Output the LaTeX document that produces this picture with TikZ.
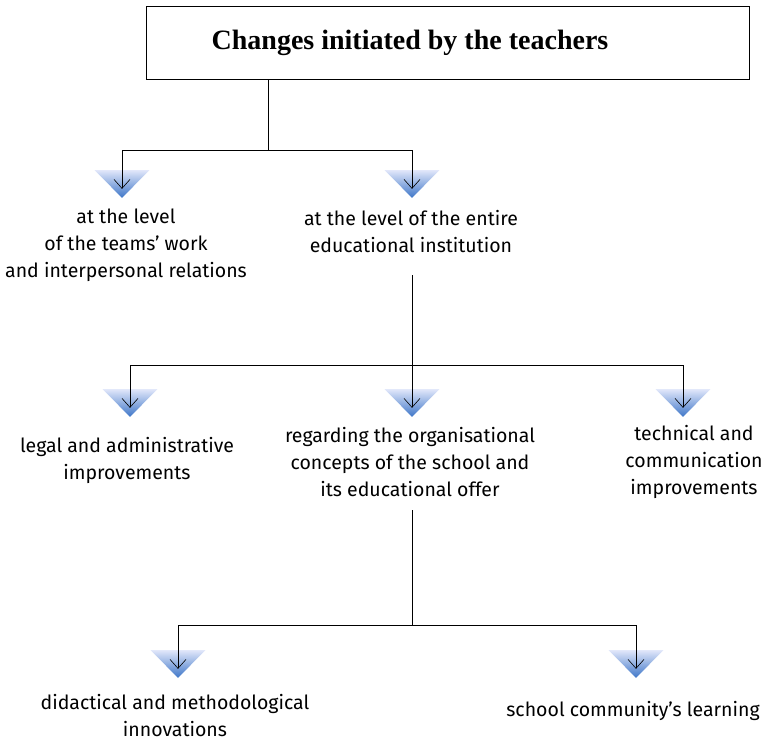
\documentclass[tikz,border=0pt]{standalone}
\usepackage{fontspec}
\setmainfont{Fira Sans}
\newfontfamily\titlefont{Liberation Serif}
\usetikzlibrary{shapes.geometric, arrows.meta, positioning}

\begin{document}
\begin{tikzpicture}[
    x=1pt, y=-1pt,
    title/.style={rectangle, draw=black, minimum width=603pt, minimum height=73pt, text centered, font=\titlefont\fontsize{28}{32}\selectfont\bfseries},
    label/.style={align=center, inner sep=0pt, font=\fontsize{19.5}{27}\selectfont},
    tri/.style={isosceles triangle, isosceles triangle stretches, shape border rotate=270, minimum width=54pt, minimum height=27pt, inner sep=0pt, draw=none},
    trifill/.style={top color={rgb,255:red,225;green,231;blue,250}, bottom color={rgb,255:red,62;green,118;blue,200}},
    arrow/.style={-{Straight Barb[length=9pt, width=16pt]}, semithick},
    link/.style={semithick}
]
\useasboundingbox (0,0) rectangle (767,740);

% Title
\node[title] (top) at (447.5,42.5) {Changes initiated by the teachers\hspace*{75pt}};

% First level
\node[tri] (t1) at (122,181.5) {};
\node[tri] (t2) at (412,181.5) {};
\node[label] (n1) at (126,245) {at the level\\of the teams’ work\\and interpersonal relations};
\node[label] (n2) at (411,232) {at the level of the entire\\educational institution};

% Second level
\node[tri] (t3) at (130,400.5) {};
\node[tri] (t4) at (412,400.5) {};
\node[tri] (t5) at (683,400.5) {};
\node[label] (n3) at (127,460) {legal and administrative\\improvements};
\node[label] (n4) at (410,462) {regarding the organisational\\concepts of the school and\\its educational offer};
\node[label] (n5) at (694,462) {technical and\\communication\\improvements};

% Third level
\node[tri] (t6) at (178,661.5) {};
\node[tri] (t7) at (636,661.5) {};
\node[label] (n6) at (175,715) {didactical and methodological\\innovations};
\node[label] (n7) at (633,711) {school community’s learning};

% Triangle shading
\foreach \t in {t1,t2,t3,t4,t5,t6,t7}
  \shade[trifill] (\t.left corner) -- (\t.right corner) -- (\t.apex) -- cycle;

% Junctions
\coordinate (j1) at (268,150);
\coordinate (s2) at (412,275);
\coordinate (j2) at (412,365);
\coordinate (s4) at (412,510);
\coordinate (j4) at (412,625);

% Arrows
\draw[link] (top.south -| j1) -- (j1);
\draw[arrow] (j1) -| ([yshift=9pt]t1.south);
\draw[arrow] (j1) -| ([yshift=9pt]t2.south);

\draw[link] (s2) -- (j2);
\draw[arrow] (j2) -| ([yshift=9pt]t3.south);
\draw[arrow] (j2) -- ([yshift=9pt]t4.south);
\draw[arrow] (j2) -| ([yshift=9pt]t5.south);

\draw[link] (s4) -- (j4);
\draw[arrow] (j4) -| ([yshift=9pt]t6.south);
\draw[arrow] (j4) -| ([yshift=9pt]t7.south);

\end{tikzpicture}
\end{document}
